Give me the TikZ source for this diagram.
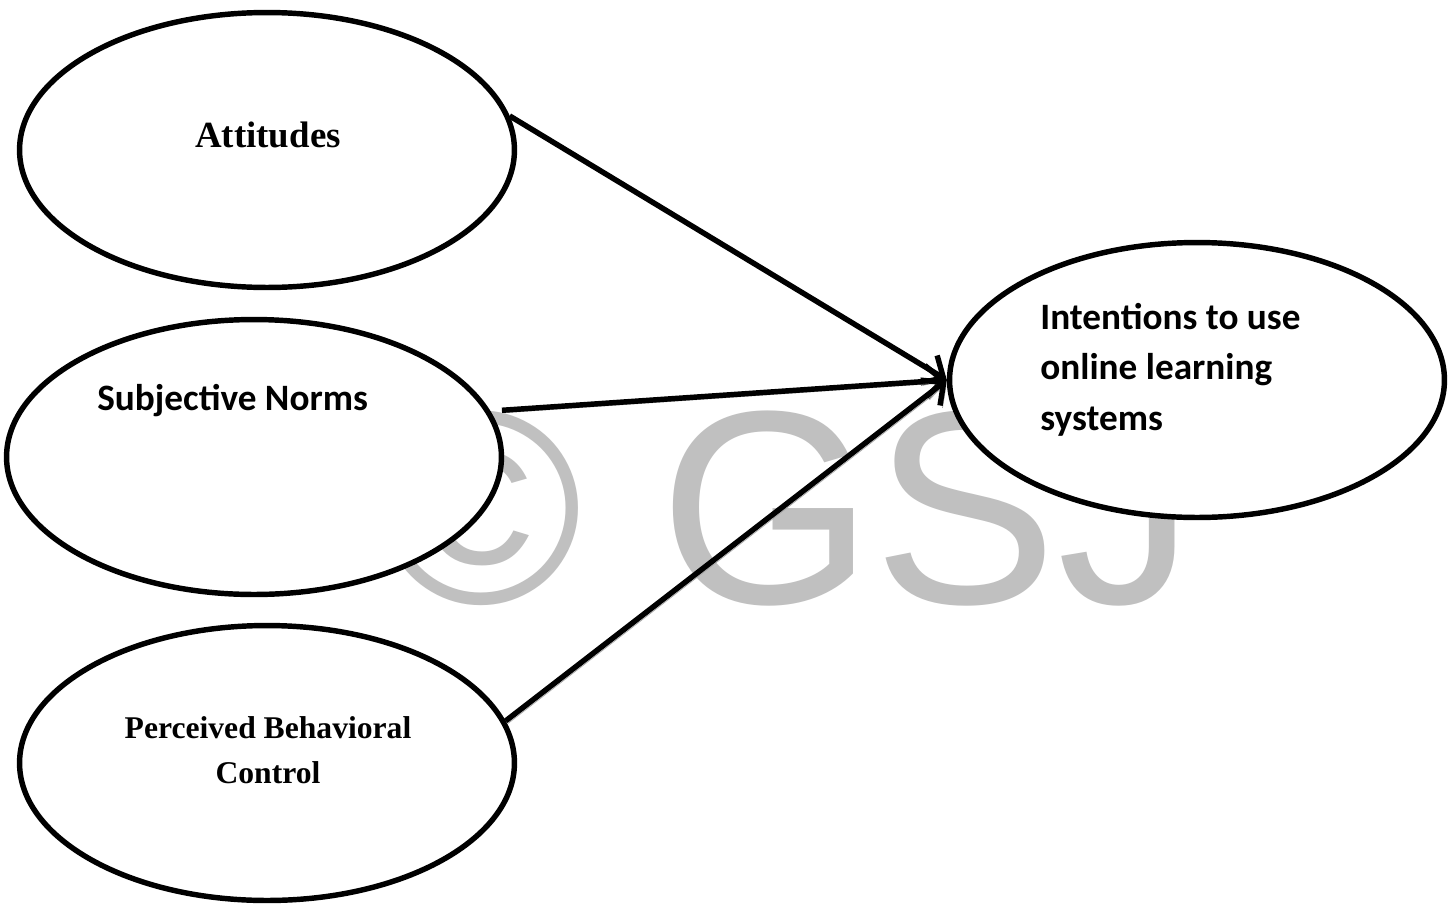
\documentclass[tikz,border=0pt]{standalone}
\usepackage{fontspec}
\usepackage{tikz}
\usepackage{xcolor}
\usetikzlibrary{shapes.geometric, arrows.meta, positioning}

\setmainfont{Liberation Serif}
\newfontfamily\calibri{Carlito}
\newfontfamily\arialfont{Liberation Sans}

\definecolor{markgray}{RGB}{192,192,192}

\tikzset{
  construct/.style={ellipse, draw, line width=3.1pt, fill=white,
    minimum width=9.9cm, minimum height=5.5cm, inner sep=0pt},
  timeslabel/.style={font=\fontsize{21}{25}\selectfont\bfseries, align=center},
  calilabel/.style={font=\calibri\fontsize{21.2}{28.6}\selectfont\bfseries, align=left},
  link/.style={line width=3.1pt, -{Straight Barb[length=3.4mm, width=6.4mm]},
    preaction={draw=black!35, transform canvas={shift={(1.4pt,-1.4pt)}}}}
}

\begin{document}
\begin{tikzpicture}[x=0.02cm, y=-0.02cm]
  \fill[white] (0,0) rectangle (1453,903);
  \useasboundingbox (0,0) rectangle (1453,903);

  % === WATERMARK ===
  \node[anchor=base west, inner sep=0pt, text=markgray,
        font=\arialfont\fontsize{157}{157}\selectfont] (mark) at (379,603) {© GSJ};

  % === CONSTRUCTS (left column + outcome) ===
  \node[construct] (att) at (267,150) {};
  \node[construct] (sn) at (254,457) {};
  \node[construct] (pbc) at (267,763) {};
  \node[construct] (intent) at (1197,380) {};

  % labels
  \node[timeslabel, anchor=base] (attlbl) at (268,147) {Attitudes};
  \node[calilabel, anchor=base west, inner sep=0pt] (snlbl) at (97,410) {Subjective Norms};
  \node[timeslabel, font=\fontsize{18}{25.5}\selectfont\bfseries, anchor=north,
        inner sep=0pt] (pbclbl) at (268,716) {Perceived Behavioral\\Control};
  \node[calilabel, anchor=north west, inner sep=0pt] (intentlbl) at (1040,303)
    {Intentions to use\\online learning\\systems};

  % === PATHS ===
  \coordinate (snout) at ([shift={(14,3)}]sn.12);
  \foreach \src in {att.8, snout, pbc.10} {
    \draw[link] (\src) -- (intent.west);
  }
\end{tikzpicture}
\end{document}
